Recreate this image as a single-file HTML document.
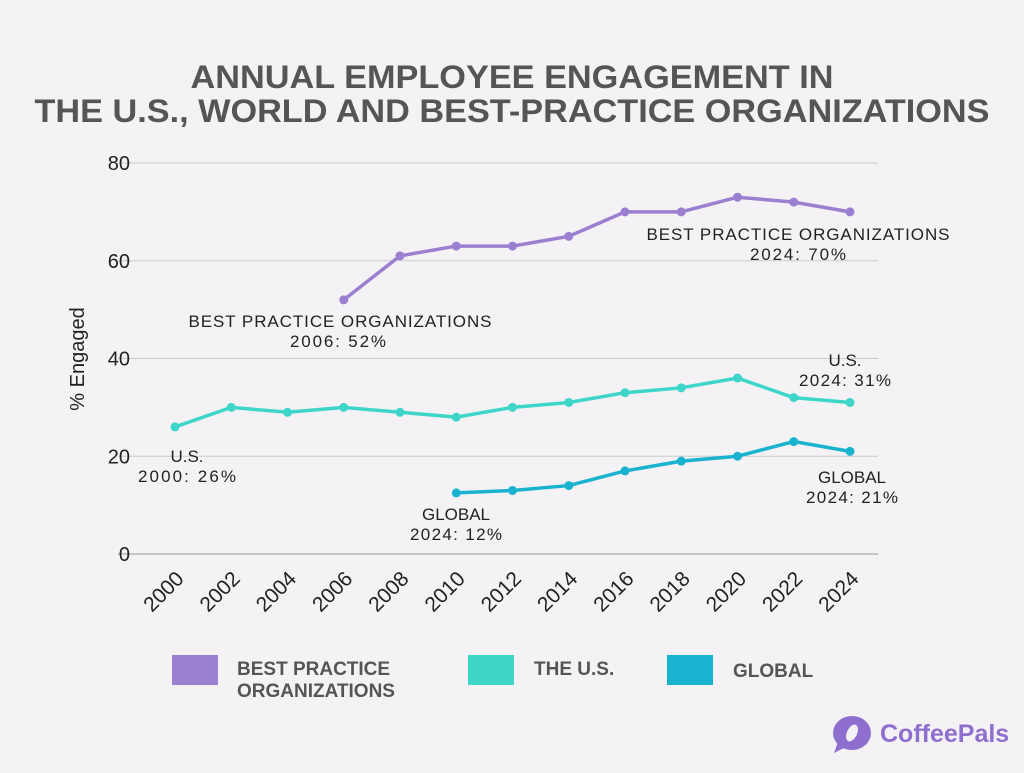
<!DOCTYPE html>
<html><head><meta charset="utf-8"><style>
body{margin:0;width:1024px;height:768px;background:#f4f2f5;overflow:hidden;font-family:"Liberation Sans",sans-serif}
</style></head><body>
<svg id="c" width="1024" height="768">
<text x="512" y="88" text-anchor="middle" font-size="32" font-weight="bold" fill="#555" textLength="643" lengthAdjust="spacingAndGlyphs">ANNUAL EMPLOYEE ENGAGEMENT IN</text>
<text x="512" y="122" text-anchor="middle" font-size="32" font-weight="bold" fill="#555" textLength="955" lengthAdjust="spacingAndGlyphs">THE U.S., WORLD AND BEST-PRACTICE ORGANIZATIONS</text>
<text transform="translate(84,359) rotate(-90)" text-anchor="middle" font-size="20" fill="#222">% Engaged</text>
<g id="grid"></g><g id="series"></g>
<g font-size="17" fill="#222" text-anchor="middle" lengthAdjust="spacingAndGlyphs">
<text x="340" y="327" textLength="303">BEST PRACTICE ORGANIZATIONS</text>
<text x="338" y="347" textLength="96">2006: 52%</text>
<text x="798" y="240" textLength="303">BEST PRACTICE ORGANIZATIONS</text>
<text x="798" y="260" textLength="96">2024: 70%</text>
<text x="845" y="366">U.S.</text>
<text x="845" y="386" textLength="92">2024: 31%</text>
<text x="187" y="462">U.S.</text>
<text x="187" y="482" textLength="98">2000: 26%</text>
<text x="852" y="483">GLOBAL</text>
<text x="852" y="503" textLength="92">2024: 21%</text>
<text x="456" y="520">GLOBAL</text>
<text x="456" y="540" textLength="92">2024: 12%</text>
</g>
<g font-size="19" font-weight="bold" fill="#555">
<rect x="172" y="655" width="46" height="30" fill="#9b7fd0"/>
<text x="237" y="675">BEST PRACTICE</text>
<text x="237" y="697">ORGANIZATIONS</text>
<rect x="468" y="655" width="46" height="30" fill="#3dd6c8"/>
<text x="534" y="675">THE U.S.</text>
<rect x="667" y="655" width="46" height="30" fill="#1ab3cf"/>
<text x="733" y="677">GLOBAL</text>
</g>
<g>
<ellipse cx="852" cy="733" rx="19" ry="17" fill="#8e6fcf"/>
<path d="M838 742 L834 753 L846 747Z" fill="#8e6fcf"/>
<ellipse cx="852" cy="733" rx="5" ry="9" fill="#f4f2f5" transform="rotate(25 852 733)"/>
<text x="880" y="742" font-size="25" font-weight="bold" fill="#8e6fcf">CoffeePals</text>
</g>
</svg>
<script>
const years=[2000,2002,2004,2006,2008,2010,2012,2014,2016,2018,2020,2022,2024];
const yTicks=[0,20,40,60,80];
const bpoYears=[2006,2008,2010,2012,2014,2016,2018,2020,2022,2024];
const bpoValues=[52,61,63,63,65,70,70,73,72,70];
const usYears=[2000,2002,2004,2006,2008,2010,2012,2014,2016,2018,2020,2022,2024];
const usValues=[26,30,29,30,29,28,30,31,33,34,36,32,31];
const globalYears=[2010,2012,2014,2016,2018,2020,2022,2024];
const globalValues=[12.5,13,14,17,19,20,23,21];
const NS="http://www.w3.org/2000/svg";
const X=y=>175+(y-2000)*(850-175)/24;
const Y=v=>554-v*(554-163)/80;
function mk(t,a,p){const e=document.createElementNS(NS,t);for(const k in a)e.setAttribute(k,a[k]);p.appendChild(e);return e;}
const g=document.getElementById('grid');
yTicks.forEach(v=>{
 const l=mk('line',{x1:118,x2:878,y1:Y(v),y2:Y(v),stroke:v===0?'#999':'#ccc','stroke-width':1},g);
 
 
 const t=mk('text',{x:130,y:Y(v)+7,'text-anchor':'end','font-size':20,fill:'#222'},g);t.textContent=v;
 
 
});
years.forEach(yr=>{
 const t=mk('text',{x:X(yr)+10,y:580,'text-anchor':'end','font-size':21,fill:'#222',transform:`rotate(-45 ${X(yr)+10} 580)`},g);t.textContent=yr;
 
 
});
const s=document.getElementById('series');
function series(xs,vs,col,name){
 const pl=mk('polyline',{points:xs.map((x,i)=>X(x)+','+Y(vs[i])).join(' '),fill:'none',stroke:col,'stroke-width':3.5},s);
 
 
 xs.forEach((x,i)=>{const c=mk('circle',{cx:X(x),cy:Y(vs[i]),r:4.5,fill:col},s);
  
  });
}
series(bpoYears,bpoValues,'#9b7fd0','bpo');
series(usYears,usValues,'#3dd6c8','us');
series(globalYears,globalValues,'#1ab3cf','global');
</script>
</body></html>
